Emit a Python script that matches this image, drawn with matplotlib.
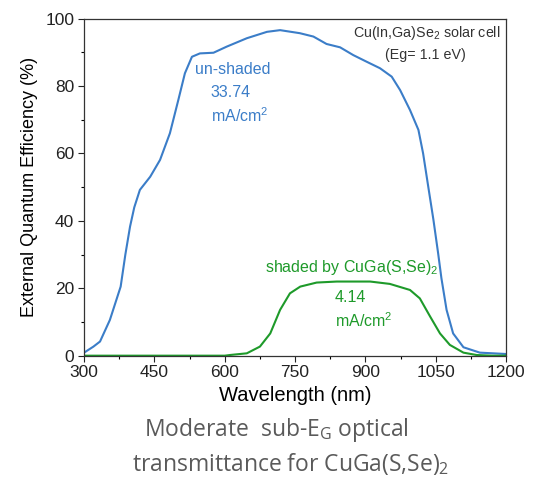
'''
EQE of CIGS cell, un-shaded vs shaded by CuGa(S,Se)2
'''

import matplotlib
matplotlib.use('Agg')
import matplotlib.pyplot as plt
import numpy as np

# data
wl_unshaded = [300, 320, 334, 355, 378, 388, 398, 407, 419, 441, 462, 483, 501, 515, 530, 547, 576,
               604, 647, 690, 718, 760, 789, 817, 846, 874, 903, 931, 956, 974, 995, 1013, 1023,
               1034, 1045, 1055, 1062, 1073, 1087, 1109, 1144, 1200]
eqe_unshaded = [0.9, 2.7, 4.2, 10.6, 20.5, 30.0, 38.3, 44.0, 49.2, 53.1, 58.1, 66.0, 75.9, 83.8,
                88.7, 89.7, 89.9, 91.7, 94.2, 96.1, 96.6, 95.7, 94.7, 92.5, 91.5, 89.2, 87.2, 85.3,
                82.8, 78.8, 72.9, 67.0, 60.0, 50.1, 40.3, 30.4, 23.0, 13.6, 6.6, 2.5, 0.9, 0.5]

wl_shaded = [300, 450, 600, 611, 647, 675, 697, 718, 739, 761, 796, 839, 910, 952, 995, 1016, 1038,
             1059, 1080, 1109, 1137, 1170, 1200]
eqe_shaded = [0.0, 0.0, 0.0, 0.2, 0.7, 2.7, 6.6, 13.6, 18.5, 20.5, 21.7, 22.0, 22.0, 21.3, 19.5,
              17.0, 11.6, 6.6, 3.2, 0.9, 0.2, 0.0, 0.0]

x_ticks = [300, 450, 600, 750, 900, 1050, 1200]
y_ticks = [0, 20, 40, 60, 80, 100]

BLUE = '#3b7dc8'
GREEN = '#1e9a2a'

plt.rcParams['font.family'] = ['Liberation Sans', 'DejaVu Sans']
plt.rcParams['mathtext.fontset'] = 'custom'
plt.rcParams['mathtext.rm'] = 'Liberation Sans'
plt.rcParams['mathtext.it'] = 'Liberation Sans:italic'

fig = plt.figure(figsize=(5.39, 4.83), dpi=100)
ax = fig.add_axes([0.156, 0.2636, 0.783, 0.6977])

ax.plot(wl_unshaded, eqe_unshaded, color=BLUE, lw=1.5)
ax.plot(wl_shaded, eqe_shaded, color=GREEN, lw=1.5)

ax.set_xlim(300, 1200)
ax.set_ylim(0, 100)
ax.set_xticks(x_ticks)
ax.set_yticks(y_ticks)
ax.set_xticks(np.arange(375, 1200, 150), minor=True)
ax.set_yticks(np.arange(10, 100, 20), minor=True)
ax.tick_params(which='major', length=4, width=0.8, labelsize=12.5, colors='#222222', pad=3)
ax.tick_params(which='minor', length=2.5, width=0.8)
for s in ax.spines.values():
    s.set_linewidth(0.9)
    s.set_color('#333333')

ax.set_xlabel('Wavelength (nm)', fontsize=14.5, labelpad=4)
ax.set_ylabel('External Quantum Efficiency (%)', fontsize=13, labelpad=5)

# annotations
ax.text(0.986, 95.8, r'Cu(In,Ga)Se$_2$ solar cell', transform=ax.get_yaxis_transform(),
        ha='right', va='center', fontsize=10.3, color='#333333')
ax.text(0.81, 89.2, '(Eg= 1.1 eV)', transform=ax.get_yaxis_transform(), ha='center', va='center',
        fontsize=10.3, color='#333333')

ax.text(537, 84.8, 'un-shaded', color=BLUE, fontsize=11.5, ha='left', va='center')
ax.text(569, 78.2, '33.74', color=BLUE, fontsize=11.5, ha='left', va='center')
ax.text(571, 71.2, 'mA/cm$^2$', color=BLUE, fontsize=11.5, ha='left', va='center')

ax.text(686, 26.3, 'shaded by CuGa(S,Se)$_2$', color=GREEN, fontsize=11.5, ha='left', va='center')
ax.text(835, 17.4, '4.14', color=GREEN, fontsize=11.5, ha='left', va='center')
ax.text(835, 10.4, 'mA/cm$^2$', color=GREEN, fontsize=11.5, ha='left', va='center')

# caption under the chart
fig.text(0.512, 0.110, r'Moderate  sub-E$_\mathregular{G}$ optical', ha='center', va='center',
         fontsize=16.5, color='#5a5a5a', family='Open Sans')
fig.text(0.54, 0.040, r'transmittance for CuGa(S,Se)$_\mathregular{2}$', ha='center', va='center',
         fontsize=16.5, color='#5a5a5a', family='Open Sans')

fig.savefig('out.png', dpi=100)
